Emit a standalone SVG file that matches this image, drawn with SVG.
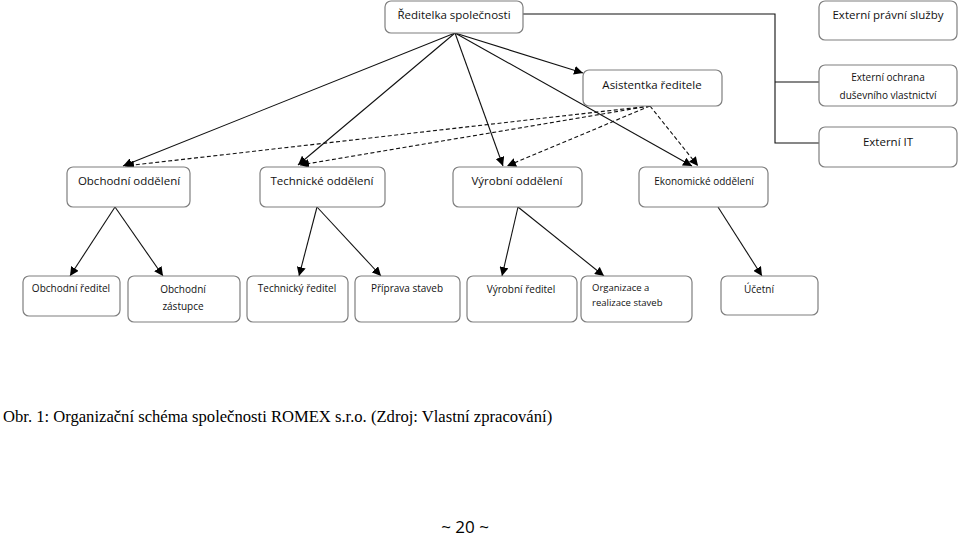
<svg xmlns="http://www.w3.org/2000/svg" width="959" height="538" viewBox="0 0 959 538">
<style>
.box{fill:#fff;stroke:#7f7f7f;stroke-width:1.2}
.t{font-family:"Open Sans","Liberation Sans",sans-serif;font-size:11.5px;fill:#111;text-anchor:middle}
.s{font-size:10px}
.ln{stroke:#111;stroke-width:1.1;fill:none}
.d{stroke:#111;stroke-width:1.1;fill:none;stroke-dasharray:4 2.5}
.cap{font-family:"Liberation Serif",serif;font-size:16.6px;fill:#000}
</style>
<defs>
<marker id="ah" viewBox="0 0 10 10" refX="10" refY="5" markerWidth="9" markerHeight="9" markerUnits="userSpaceOnUse" orient="auto">
<path d="M0,0 L10,5 L0,10 z" fill="#000"/>
</marker>
</defs>
<rect width="959" height="538" fill="#fff"/>
<g id="connectors">
<polyline class="ln" points="523,14 775,14 775,143 819,143"/>
<line class="ln" x1="775" y1="82" x2="819" y2="82"/>
<line class="ln" x1="455" y1="33" x2="583" y2="73" marker-end="url(#ah)"/>
<line class="ln" x1="455" y1="33" x2="123" y2="166" marker-end="url(#ah)"/>
<line class="ln" x1="455" y1="33" x2="298" y2="165" marker-end="url(#ah)"/>
<line class="ln" x1="455" y1="33" x2="503" y2="166" marker-end="url(#ah)"/>
<line class="ln" x1="455" y1="33" x2="692" y2="166" marker-end="url(#ah)"/>
<line class="d" x1="650" y1="106" x2="125" y2="166" marker-end="url(#ah)"/>
<line class="d" x1="650" y1="106" x2="300" y2="165" marker-end="url(#ah)"/>
<line class="d" x1="650" y1="106" x2="507" y2="166" marker-end="url(#ah)"/>
<line class="d" x1="650" y1="106" x2="698" y2="166" marker-end="url(#ah)"/>
<line class="ln" x1="115" y1="207" x2="70" y2="276" marker-end="url(#ah)"/>
<line class="ln" x1="115" y1="207" x2="163" y2="276" marker-end="url(#ah)"/>
<line class="ln" x1="317" y1="207" x2="299" y2="276" marker-end="url(#ah)"/>
<line class="ln" x1="317" y1="207" x2="381" y2="276" marker-end="url(#ah)"/>
<line class="ln" x1="518" y1="207" x2="502" y2="276" marker-end="url(#ah)"/>
<line class="ln" x1="518" y1="207" x2="604" y2="276" marker-end="url(#ah)"/>
<line class="ln" x1="718" y1="207" x2="762" y2="276" marker-end="url(#ah)"/>
</g>
<g id="reditelka"><rect class="box" x="385" y="1" width="138" height="32" rx="6"/><text class="t" x="454" y="19">Ředitelka společnosti</text></g>
<g id="asistentka"><rect class="box" x="583" y="70" width="139" height="36" rx="6"/><text class="t" x="652" y="89">Asistentka ředitele</text></g>
<g id="ext-pravni"><rect class="box" x="819" y="1" width="138" height="39" rx="6"/><text class="t" x="888" y="19">Externí právní služby</text></g>
<g id="ext-ochrana"><rect class="box" x="819" y="65" width="138" height="41" rx="6"/><text class="t s" x="888" y="81">Externí ochrana</text><text class="t s" x="888" y="99">duševního vlastnictví</text></g>
<g id="ext-it"><rect class="box" x="819" y="127" width="138" height="40" rx="6"/><text class="t" x="888" y="146">Externí IT</text></g>
<g id="obchodni-odd"><rect class="box" x="67" y="167" width="123" height="40" rx="6"/><text class="t" x="129" y="185">Obchodní oddělení</text></g>
<g id="technicke-odd"><rect class="box" x="260" y="167" width="125" height="40" rx="6"/><text class="t" x="322" y="185">Technické oddělení</text></g>
<g id="vyrobni-odd"><rect class="box" x="453" y="167" width="129" height="40" rx="6"/><text class="t" x="517" y="185">Výrobní oddělení</text></g>
<g id="ekonomicke-odd"><rect class="box" x="639" y="167" width="129" height="40" rx="6"/><text class="t s" x="704" y="185">Ekonomické oddělení</text></g>
<g id="obchodni-reditel"><rect class="box" x="23" y="276" width="97" height="40" rx="6"/><text class="t s" x="71" y="292">Obchodní ředitel</text></g>
<g id="obchodni-zastupce"><rect class="box" x="128" y="276" width="112" height="46" rx="6"/><text class="t s" x="183" y="293">Obchodní</text><text class="t s" x="183" y="310">zástupce</text></g>
<g id="technicky-reditel"><rect class="box" x="247" y="276" width="101" height="46" rx="6"/><text class="t s" x="297" y="292">Technický ředitel</text></g>
<g id="priprava-staveb"><rect class="box" x="355" y="276" width="105" height="46" rx="6"/><text class="t s" x="407" y="292">Příprava staveb</text></g>
<g id="vyrobni-reditel"><rect class="box" x="467" y="276" width="110" height="46" rx="6"/><text class="t s" x="521" y="293">Výrobní ředitel</text></g>
<g id="organizace"><rect class="box" x="581" y="276" width="111" height="46" rx="6"/><text class="t s" x="592" y="291" style="text-anchor:start;font-size:9.5px">Organizace a</text><text class="t s" x="592" y="306" style="text-anchor:start;font-size:9.5px">realizace staveb</text></g>
<g id="ucetni"><rect class="box" x="721" y="276" width="97" height="39" rx="6"/><text class="t s" x="759" y="293">Účetní</text></g>
<text class="cap" x="3" y="422">Obr. 1: Organizační schéma společnosti ROMEX s.r.o. (Zdroj: Vlastní zpracování)</text>
<text x="465" y="533" style="font-family:'Open Sans','Liberation Sans',sans-serif;font-size:17px;text-anchor:middle;fill:#000">~ 20 ~</text>
</svg>
